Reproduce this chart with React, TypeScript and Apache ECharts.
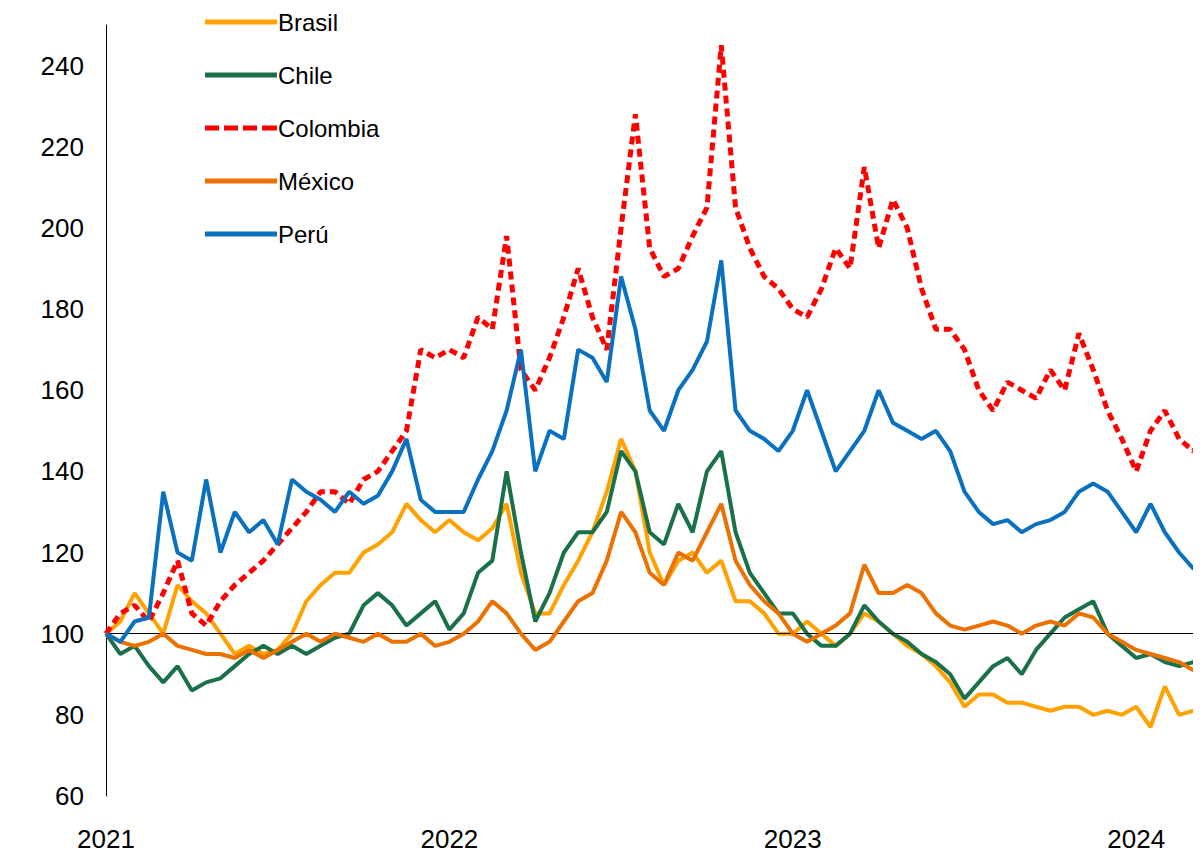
import React, { useEffect, useRef } from "react";
import * as echarts from "echarts";

const names = ["Brasil", "Chile", "Colombia", "México", "Perú"];
const colors = ["#FFA200", "#1A7048", "#FF0000", "#EB7100", "#0A70C0"];
const brasil = [100,103,110,105,100,112,108,105,100,95,97,95,96,100,108,112,115,115,120,122,125,132,128,125,128,125,123,126,132,115,105,105,112,118,125,135,148,140,120,112,118,120,115,118,108,108,105,100,100,103,100,97,100,105,103,100,97,95,92,88,82,85,85,83,83,82,81,82,82,80,81,80,82,77,87,80,81,83];
const chile = [100,95,97,92,88,92,86,88,89,92,95,97,95,97,95,97,99,100,107,110,107,102,105,108,101,105,115,118,140,120,103,110,120,125,125,130,145,140,125,122,132,125,140,145,125,115,110,105,105,100,97,97,100,107,103,100,98,95,93,90,84,88,92,94,90,96,100,104,106,108,100,97,94,95,93,92,93,95];
const colombia = [100,105,107,103,110,118,105,102,108,112,115,118,122,126,130,135,135,132,138,140,145,150,170,168,170,168,178,175,198,165,160,168,178,190,178,170,200,228,195,188,190,198,205,245,205,195,188,185,180,178,185,195,190,215,195,207,200,185,175,175,170,160,155,162,160,158,165,160,174,165,155,148,140,150,155,148,145,150];
const mexico = [100,98,97,98,100,97,96,95,95,94,96,94,96,98,100,98,100,99,98,100,98,98,100,97,98,100,103,108,105,100,96,98,103,108,110,118,130,125,115,112,120,118,125,132,118,112,108,105,100,98,100,102,105,117,110,110,112,110,105,102,101,102,103,102,100,102,103,102,105,104,100,98,96,95,94,93,91,92];
const peru = [100,98,103,104,135,120,118,138,120,130,125,128,122,138,135,133,130,135,132,134,140,148,133,130,130,130,138,145,155,170,140,150,148,170,168,162,188,175,155,150,160,165,172,192,155,150,148,145,150,160,150,140,145,150,160,152,150,148,150,145,135,130,127,128,125,127,128,130,135,137,135,130,125,132,125,120,116,120];
const allData = [brasil, chile, colombia, mexico, peru];

const dashIcon = "path://M0,0h14v5h-14z M19,0h14v5h-14z M38,0h14v5h-14z M57,0h15v5h-15z";

export default function App() {
  const ref = useRef<HTMLDivElement>(null);
  useEffect(() => {
    const chart = echarts.init(ref.current!, null, { renderer: "svg" });
    const series: any[] = allData.map((d, k) => ({
      name: names[k],
      type: "line",
      showSymbol: false,
      symbol: "none",
      data: d.map((v, i) => [2021 + i / 24, v]),
      lineStyle: { color: colors[k], width: k === 2 ? 5 : 4, type: k === 2 ? [8, 5] : "solid" },
      itemStyle: { color: colors[k] },
      z: 2 + k,
    }));
    series[0].markLine = {
      silent: true, symbol: "none", label: { show: false },
      lineStyle: { color: "#000", width: 1, type: "solid" },
      data: [{ yAxis: 100 }],
    };
    chart.setOption({
      animation: false,
      grid: { left: 98, right: 0, top: 17, bottom: 53 },
      legend: {
        orient: "vertical", left: 192, top: -3, itemWidth: 72, itemHeight: 5, itemGap: 29,
        icon: "rect",
        textStyle: { fontSize: 24, fontFamily: "Liberation Sans, Arial", color: "#000", padding: [0, 0, 0, -4] },
        data: names.map((n, k) => (k === 2 ? { name: n, icon: dashIcon } : { name: n })),
      },
      xAxis: {
        type: "value", min: 2021, max: 2024.18, interval: 1,
        axisLine: { show: false }, axisTick: { show: false }, splitLine: { show: false },
        axisLabel: { fontSize: 26, color: "#000", fontFamily: "Liberation Sans, Arial", margin: 30,
          formatter: (v: number) => (Number.isInteger(v) ? String(v) : "") },
      },
      yAxis: {
        type: "value", min: 60, max: 250, interval: 20,
        axisLine: { show: true, lineStyle: { color: "#000", width: 1 } },
        axisTick: { show: false }, splitLine: { show: false },
        axisLabel: { fontSize: 26, color: "#000", fontFamily: "Liberation Sans, Arial", margin: 22,
          formatter: (v: number) => (v <= 240 ? String(v) : "") },
      },
      series,
    });
    return () => chart.dispose();
  }, []);
  return <div ref={ref} style={{ width: 1193, height: 844 }} />;
}
